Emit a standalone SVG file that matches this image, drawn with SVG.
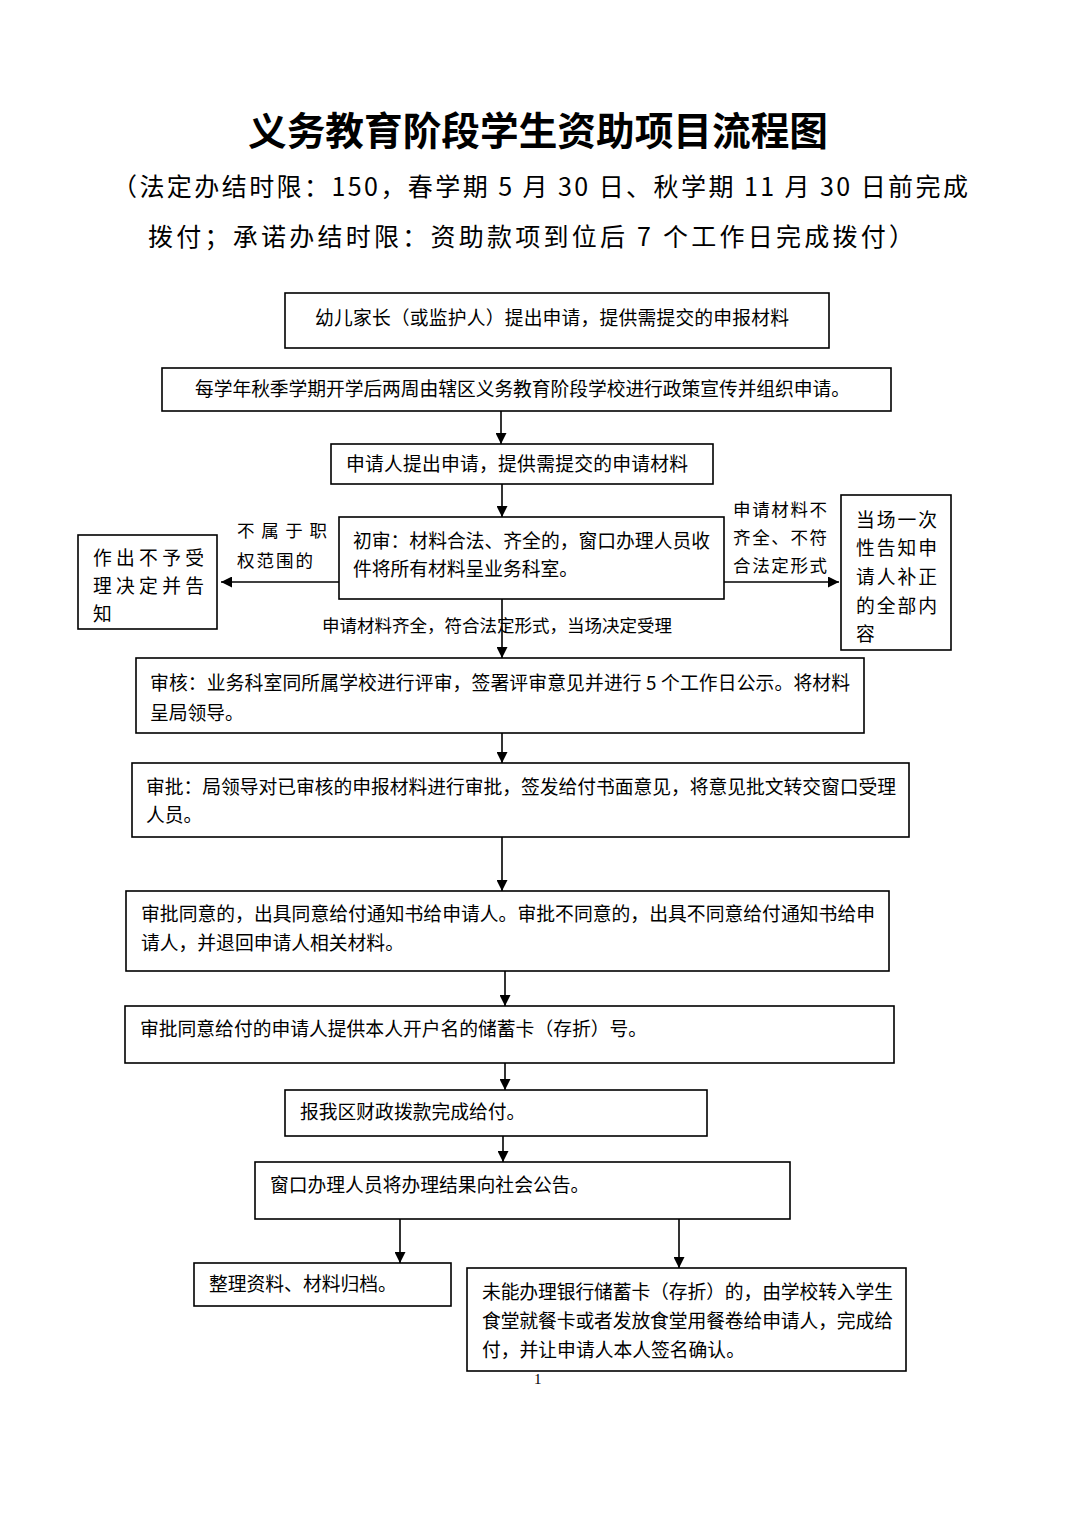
<svg xmlns="http://www.w3.org/2000/svg" width="1074" height="1520" viewBox="0 0 1074 1520">
<style>
.bg{fill:#fff}
.box{fill:#fff;stroke:#000;stroke-width:1.6}
.t{font-family:"Noto Sans CJK SC","Noto Sans CJK JP",sans-serif;font-size:18.8px;fill:#000}
.lbl{font-family:"Noto Sans CJK SC","Noto Sans CJK JP",sans-serif;font-size:17.5px;fill:#000}
.title{font-family:"Noto Sans CJK SC",sans-serif;font-size:38.5px;font-weight:bold;fill:#000}
.sub{font-family:"Noto Sans CJK SC",sans-serif;font-size:25px;fill:#000}
.c line{stroke:#000;stroke-width:1.6;fill:none;marker-end:url(#ah)}
</style>
<defs>
<marker id="ah" viewBox="0 0 10 10" refX="10" refY="5" markerWidth="16" markerHeight="11" markerUnits="userSpaceOnUse" orient="auto">
<path d="M0,0 L10,5 L0,10 z" fill="#000"/>
</marker>
</defs>
<rect class="bg" x="0" y="0" width="1074" height="1520"/>

<g id="header">
<text class="title" x="248" y="145" textLength="580" lengthAdjust="spacingAndGlyphs">义务教育阶段学生资助项目流程图</text>
<text class="sub" x="112" y="196" textLength="856" lengthAdjust="spacing">（法定办结时限：150，春学期 5 月 30 日、秋学期 11 月 30 日前完成</text>
<text class="sub" x="148" y="246" textLength="766" lengthAdjust="spacing">拨付；承诺办结时限：资助款项到位后 7 个工作日完成拨付）</text>
</g>

<g class="c" id="connectors">
<line x1="501" y1="411" x2="501" y2="444"/>
<line x1="502" y1="484" x2="502" y2="517"/>
<line x1="339" y1="582" x2="221" y2="582"/>
<line x1="724" y1="582" x2="839" y2="582"/>
<line x1="502" y1="599" x2="502" y2="658"/>
<line x1="502" y1="733" x2="502" y2="763"/>
<line x1="502" y1="837" x2="502" y2="891"/>
<line x1="505" y1="971" x2="505" y2="1006"/>
<line x1="505" y1="1063" x2="505" y2="1090"/>
<line x1="503" y1="1136" x2="503" y2="1162"/>
<line x1="400" y1="1219" x2="400" y2="1263"/>
<line x1="679" y1="1219" x2="679" y2="1268"/>
</g>

<g id="n1"><rect class="box" x="285" y="293" width="544" height="55"/>
<text class="t" x="315" y="325" textLength="474" lengthAdjust="spacing">幼儿家长（或监护人）提出申请，提供需提交的申报材料</text></g>

<g id="n2"><rect class="box" x="162" y="368" width="729" height="43"/>
<text class="t" x="195" y="396" textLength="655" lengthAdjust="spacing">每学年秋季学期开学后两周由辖区义务教育阶段学校进行政策宣传并组织申请。</text></g>

<g id="n3"><rect class="box" x="331" y="444" width="382" height="40"/>
<text class="t" x="346" y="471" textLength="342" lengthAdjust="spacing">申请人提出申请，提供需提交的申请材料</text></g>

<g id="n4"><rect class="box" x="339" y="517" width="385" height="82"/>
<text class="t" x="353" y="548" textLength="357" lengthAdjust="spacing">初审：材料合法、齐全的，窗口办理人员收</text>
<text class="t" x="353" y="576" textLength="225" lengthAdjust="spacing">件将所有材料呈业务科室。</text></g>

<g id="lbl-left">
<text class="lbl" x="237" y="537" textLength="90" lengthAdjust="spacing">不属于职</text>
<text class="lbl" x="237" y="567" textLength="76" lengthAdjust="spacing">权范围的</text>
</g>

<g id="n5"><rect class="box" x="78" y="535" width="139" height="94"/>
<text class="t" x="93" y="565" textLength="111" lengthAdjust="spacing">作出不予受</text>
<text class="t" x="93" y="593" textLength="111" lengthAdjust="spacing">理决定并告</text>
<text class="t" x="93" y="621">知</text></g>

<g id="lbl-right">
<text class="lbl" x="733" y="516" textLength="94" lengthAdjust="spacing">申请材料不</text>
<text class="lbl" x="733" y="544" textLength="94" lengthAdjust="spacing">齐全、不符</text>
<text class="lbl" x="733" y="572" textLength="94" lengthAdjust="spacing">合法定形式</text>
</g>

<g id="n6"><rect class="box" x="841" y="495" width="110" height="155"/>
<text class="t" x="856" y="527" textLength="81" lengthAdjust="spacing">当场一次</text>
<text class="t" x="856" y="555" textLength="81" lengthAdjust="spacing">性告知申</text>
<text class="t" x="856" y="584" textLength="81" lengthAdjust="spacing">请人补正</text>
<text class="t" x="856" y="613" textLength="81" lengthAdjust="spacing">的全部内</text>
<text class="t" x="856" y="641">容</text></g>

<g id="lbl-mid">
<text class="lbl" x="322" y="632" textLength="350" lengthAdjust="spacing">申请材料齐全，符合法定形式，当场决定受理</text>
</g>

<g id="n7"><rect class="box" x="136" y="658" width="728" height="75"/>
<text class="t" x="150" y="690" textLength="700" lengthAdjust="spacing">审核：业务科室同所属学校进行评审，签署评审意见并进行 5 个工作日公示。将材料</text>
<text class="t" x="150" y="720">呈局领导。</text></g>

<g id="n8"><rect class="box" x="132" y="763" width="777" height="74"/>
<text class="t" x="146" y="794" textLength="750" lengthAdjust="spacing">审批：局领导对已审核的申报材料进行审批，签发给付书面意见，将意见批文转交窗口受理</text>
<text class="t" x="146" y="822">人员。</text></g>

<g id="n9"><rect class="box" x="126" y="891" width="763" height="80"/>
<text class="t" x="141" y="921" textLength="734" lengthAdjust="spacing">审批同意的，出具同意给付通知书给申请人。审批不同意的，出具不同意给付通知书给申</text>
<text class="t" x="141" y="950">请人，并退回申请人相关材料。</text></g>

<g id="n10"><rect class="box" x="125" y="1006" width="769" height="57"/>
<text class="t" x="140" y="1036">审批同意给付的申请人提供本人开户名的储蓄卡（存折）号。</text></g>

<g id="n11"><rect class="box" x="285" y="1090" width="422" height="46"/>
<text class="t" x="300" y="1119">报我区财政拨款完成给付。</text></g>

<g id="n12"><rect class="box" x="255" y="1162" width="535" height="57"/>
<text class="t" x="270" y="1192">窗口办理人员将办理结果向社会公告。</text></g>

<g id="n13"><rect class="box" x="194" y="1263" width="257" height="43"/>
<text class="t" x="209" y="1291">整理资料、材料归档。</text></g>

<g id="n14"><rect class="box" x="467" y="1268" width="439" height="103"/>
<text class="t" x="482" y="1299" textLength="411" lengthAdjust="spacing">未能办理银行储蓄卡（存折）的，由学校转入学生</text>
<text class="t" x="482" y="1328" textLength="411" lengthAdjust="spacing">食堂就餐卡或者发放食堂用餐卷给申请人，完成给</text>
<text class="t" x="482" y="1357">付，并让申请人本人签名确认。</text></g>

<text x="534" y="1384" font-family="Liberation Serif, serif" font-size="15" fill="#000">1</text>
</svg>
